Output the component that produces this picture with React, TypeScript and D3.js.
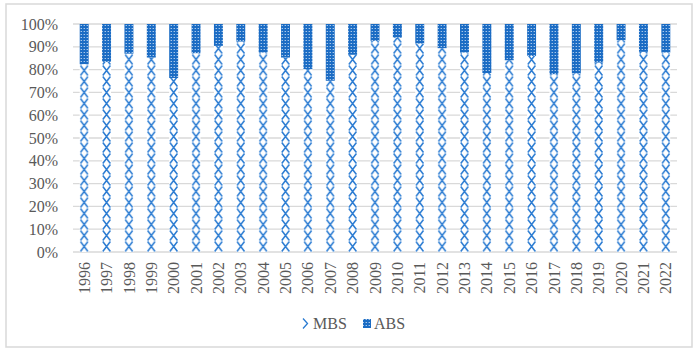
import React from "react";
import * as d3 from "d3";

const years = [
  "1996", "1997", "1998", "1999", "2000", "2001", "2002", "2003", "2004",
  "2005", "2006", "2007", "2008", "2009", "2010", "2011", "2012", "2013",
  "2014", "2015", "2016", "2017", "2018", "2019", "2020", "2021", "2022",
];
// share of MBS in percent, ABS is the rest
const mbsShare = [
  82.4, 83.4, 87, 85.3, 76.3, 87.2, 90.4, 92.3, 87.5,
  85.3, 80.2, 75.1, 86.5, 92.6, 94, 91.4, 89.4, 87.5,
  78.5, 84.1, 86, 78, 78.3, 83.1, 92.9, 87.8, 87.5,
];
const absShare = mbsShare.map((v) => 100 - v);
const yTicks = [0, 10, 20, 30, 40, 50, 60, 70, 80, 90, 100];

const width = 700;
const height = 358;
const left = 73;
const right = 677;
const top = 24;
const bottom = 252;
const blue = "#2a7bd2";
const textColor = "#595959";
const font = "'Liberation Serif', 'Times New Roman', serif";

const App = () => {
  const x = d3.scaleBand<string>().domain(years).range([left, right]).paddingInner(0.6).paddingOuter(0.3);
  const y = d3.scaleLinear().domain([0, 100]).range([bottom, top]);
  const bw = x.bandwidth();
  const step = x.step();
  const x0 = x(years[0]) as number;

  return (
    <svg width={width} height={height} style={{ position: "absolute", left: 0, top: 0 }}>
      <defs>
        <pattern id="mbs" patternUnits="userSpaceOnUse" x={x0} y={bottom} width={step} height={11}>
          <rect width={step} height={11} fill="white" />
          <path d={`M0.7,0.5L${bw - 0.7},10.5M${bw - 0.7},0.5L0.7,10.5`} stroke={blue} strokeWidth={1.5} fill="none" />
        </pattern>
        <pattern id="abs" patternUnits="userSpaceOnUse" x={x0} y={0} width={3} height={3}>
          <rect width={3} height={3} fill="#1b6cc4" />
          <rect x={1} y={1} width={1} height={1} fill="#e2edf9" />
        </pattern>
      </defs>
      <rect x={6} y={4} width={686} height={343} fill="white" stroke="#d9d9d9" strokeWidth={1.5} />

      {yTicks.map((t) => (
        <g key={t}>
          <line x1={left} x2={right} y1={y(t)} y2={y(t)} stroke="#d9d9d9" strokeWidth={1.3} />
          <text x={58} y={y(t)} dy="0.35em" textAnchor="end" fontFamily={font} fontSize={16} fill={textColor}>
            {t}%
          </text>
        </g>
      ))}

      {years.map((yr, i) => (
        <g key={yr}>
          <rect x={x(yr)} y={y(mbsShare[i])} width={bw} height={bottom - y(mbsShare[i])} fill="url(#mbs)" />
          <rect x={x(yr)} y={y(100)} width={bw} height={y(100 - absShare[i]) - y(100)} fill="url(#abs)" />
        </g>
      ))}

      {years.map((yr) => (
        <text
          key={yr}
          transform={`translate(${(x(yr) as number) + bw / 2},262) rotate(-90)`}
          dy="0.35em"
          textAnchor="end"
          fontFamily={font}
          fontSize={16}
          fill={textColor}
        >
          {yr}
        </text>
      ))}

      <g>
        <path d="M303,318.5L307.5,323.5L303,328.5" stroke={blue} strokeWidth={1.3} fill="none" />
        <text x={313} y={329} fontFamily={font} fontSize={16} fill={textColor}>MBS</text>
        <rect x={363} y={319} width={8} height={9} fill="url(#abs)" />
        <text x={374} y={329} fontFamily={font} fontSize={16} fill={textColor}>ABS</text>
      </g>
    </svg>
  );
};

export default App;
